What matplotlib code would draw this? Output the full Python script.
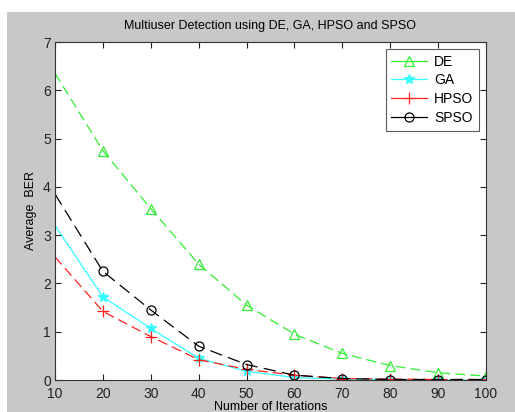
import matplotlib
matplotlib.use('Agg')
import matplotlib.pyplot as plt
from matplotlib.patches import Rectangle
from matplotlib.lines import Line2D

plt.rcParams['font.family'] = ['Liberation Sans', 'DejaVu Sans']

# Data
iterations = [10, 20, 30, 40, 50, 60, 70, 80, 90, 100]
ber_de = [6.35, 4.75, 3.55, 2.40, 1.55, 0.95, 0.55, 0.30, 0.15, 0.08]
ber_ga = [3.20, 1.72, 1.07, 0.45, 0.18, 0.05, 0.02, 0.01, 0.00, 0.00]
ber_hpso = [2.55, 1.42, 0.90, 0.42, 0.22, 0.10, 0.03, 0.02, 0.01, 0.01]
ber_spso = [3.85, 2.25, 1.45, 0.70, 0.32, 0.10, 0.03, 0.01, 0.01, 0.01]
x_ticks = [10, 20, 30, 40, 50, 60, 70, 80, 90, 100]
y_ticks = [0, 1, 2, 3, 4, 5, 6, 7]

fig = plt.figure(figsize=(5.15, 4.12), dpi=100, facecolor='white')
# MATLAB-style gray figure panel
fig.patches.append(Rectangle((7 / 515, 0), 1 - 7 / 515, 1 - 12 / 412,
                             transform=fig.transFigure, facecolor='#c8c8c8',
                             edgecolor='none', zorder=-10))

ax = fig.add_axes([55 / 515, 1 - 380 / 412, (486 - 55) / 515, (380 - 42) / 412])
ax.set_facecolor('white')

series = [
    ('DE', ber_de, '#33ee33', (0, (8, 4)), '^', 'none', 7),
    ('GA', ber_ga, '#33ffff', '-', '*', None, 7),
    ('HPSO', ber_hpso, '#ff2020', (0, (8, 4)), '+', None, 8),
    ('SPSO', ber_spso, 'black', (0, (10, 5)), 'o', 'none', 6.5),
]

handles = []
for name, vals, col, ls, mk, mfc, ms in series:
    kw = {} if mfc is None else {'mfc': mfc}
    ax.plot(iterations, vals, color=col, ls=ls, lw=0.9, marker=mk, ms=ms,
            mew=0.9, markevery=slice(1, None), **kw)
    # legend shows solid lines like the MATLAB original
    handles.append(Line2D([], [], color=col, ls='-', lw=0.9, marker=mk,
                          ms=ms, mew=0.9, label=name, **kw))

ax.set_xlim(10, 100)
ax.set_ylim(0, 7)
ax.set_xticks(x_ticks)
ax.set_yticks(y_ticks)
ax.tick_params(direction='in', top=True, right=True, length=4,
               labelsize=10, colors='#222222')
ax.tick_params(axis='x', pad=5)
ax.tick_params(axis='y', pad=3)
for s in ax.spines.values():
    s.set_color('#333333')
    s.set_linewidth(0.8)

ax.set_title('Multiuser Detection using DE, GA, HPSO and SPSO', fontsize=9, pad=9)
ax.set_xlabel('Number of Iterations', fontsize=9, labelpad=0)
ax.set_ylabel('Average  BER', fontsize=9, labelpad=4)

leg = ax.legend(handles=handles, loc='upper right', fontsize=10, frameon=True,
                fancybox=False, edgecolor='#333333', handlelength=2.6,
                borderaxespad=0.5, labelspacing=0.35, handletextpad=0.5)
leg.get_frame().set_linewidth(0.8)

fig.savefig('out.png', dpi=100, facecolor=fig.get_facecolor())
